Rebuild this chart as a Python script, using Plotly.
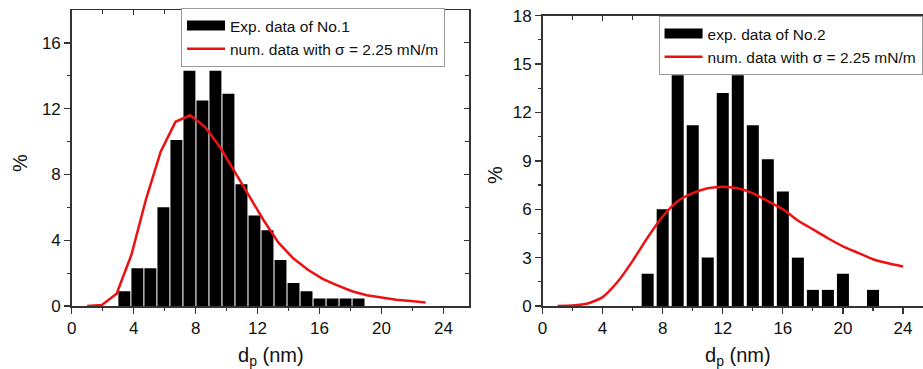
import plotly.graph_objects as go

# ---------------- data ----------------
# Left panel: experimental histogram No.1 (bin centres in nm, %)
exp1_x = [3.40, 4.24, 5.08, 5.92, 6.76, 7.60, 8.44, 9.28, 10.12, 10.96,
          11.80, 12.64, 13.48, 14.32, 15.16, 16.00, 16.84, 17.68, 18.52]
exp1_y = [0.9, 2.3, 2.3, 6.0, 10.1, 14.3, 12.5, 14.3, 12.9, 7.4,
          5.5, 4.6, 2.8, 1.4, 0.9, 0.45, 0.45, 0.45, 0.45]

# Left panel: numerical curve
num1_x = [1.0, 1.95, 2.9, 3.85, 4.8, 5.75, 6.7, 7.65, 8.6, 9.55, 10.5, 11.45,
          12.4, 13.35, 14.3, 15.25, 16.2, 17.15, 18.1, 19.05, 20.0, 20.95,
          21.9, 22.85]
num1_y = [0.0, 0.06, 0.75, 3.1, 6.5, 9.4, 11.2, 11.6, 10.9, 9.7, 8.2, 6.7,
          5.2, 3.85, 2.9, 2.2, 1.65, 1.25, 0.9, 0.65, 0.5, 0.38, 0.3, 0.22]

# Right panel: experimental histogram No.2
exp2_x = [7, 8, 9, 10, 11, 12, 13, 14, 15, 16, 17, 18, 19, 20, 21, 22]
exp2_y = [2, 6, 14.3, 11.2, 3, 13.2, 14.3, 11.2, 9.1, 7.1, 3, 1, 1, 2, 0, 1]

# Right panel: numerical curve
num2_x = [1, 2, 3, 4, 5, 6, 7, 8, 9, 10, 11, 12, 13, 14, 15, 16, 17, 18, 19,
          20, 21, 22, 23, 24]
num2_y = [0.0, 0.03, 0.15, 0.55, 1.5, 2.8, 4.25, 5.55, 6.5, 7.0, 7.3, 7.4,
          7.3, 7.0, 6.5, 6.0, 5.3, 4.75, 4.2, 3.7, 3.3, 2.9, 2.65, 2.45]

name_exp1 = "Exp. data of No.1"
name_exp2 = "exp. data of No.2"
name_num = "num. data with σ = 2.25 mN/m"

x_ticks = [0, 4, 8, 12, 16, 20, 24]
y1_ticks = [0, 4, 8, 12, 16]
y2_ticks = [0, 3, 6, 9, 12, 15, 18]

# ---------------- figure ----------------
W, H = 923, 369
FONT = "Arial, 'Liberation Sans', sans-serif"
AXC = "#333333"
RED = "#ee1111"

fig = go.Figure()

# bars
fig.add_trace(go.Bar(x=exp1_x, y=exp1_y, width=0.77, marker=dict(color="black", line=dict(width=0)),
                     showlegend=False, xaxis="x", yaxis="y"))
fig.add_trace(go.Bar(x=exp2_x, y=exp2_y, width=0.8, marker=dict(color="black", line=dict(width=0)),
                     showlegend=False, xaxis="x2", yaxis="y2"))

# legend-only entries (wide black rectangle symbol)
fig.add_trace(go.Scatter(x=[None], y=[None], mode="lines", name=name_exp1,
                         line=dict(color="black", width=16), legend="legend",
                         xaxis="x", yaxis="y"))
fig.add_trace(go.Scatter(x=[None], y=[None], mode="lines", name=name_exp2,
                         line=dict(color="black", width=17), legend="legend2",
                         xaxis="x2", yaxis="y2"))

# curves (on overlay axes with identical ranges)
fig.add_trace(go.Scatter(x=num1_x, y=num1_y, mode="lines", name=name_num,
                         line=dict(color=RED, width=2.5), legend="legend",
                         xaxis="x3", yaxis="y3"))
fig.add_trace(go.Scatter(x=num2_x, y=num2_y, mode="lines", name=name_num,
                         line=dict(color=RED, width=2.5, shape="spline", smoothing=0.6),
                         legend="legend2", xaxis="x4", yaxis="y4"))

dl = [71.7 / W, 469 / W]
dr = [542.5 / W, 1.0]
y_bot = (H - 306) / H
yl = [y_bot, (H - 10) / H]
yr = [y_bot, (H - 15.7) / H]
xr1 = [0, 25.65]
xr2 = [0, 25.33]

def base_x(domain, rng, anchor):
    return dict(domain=domain, range=rng, anchor=anchor, tickmode="array", tickvals=x_ticks,
                ticks="outside", ticklen=6, tickwidth=1.3, tickcolor=AXC,
                minor=dict(tickmode="array", tickvals=[2, 6, 10, 14, 18, 22], ticks="outside",
                           ticklen=3.5, tickwidth=1.2, tickcolor=AXC),
                showline=True, linecolor=AXC, linewidth=1.5, showgrid=False, zeroline=False,
                tickfont=dict(family=FONT, size=17, color="#111"), fixedrange=True,
                automargin=False)

def base_y(domain, rng, anchor, tv, mv):
    return dict(domain=domain, range=rng, anchor=anchor, tickmode="array", tickvals=tv,
                ticks="outside", ticklen=6, tickwidth=1.3, tickcolor=AXC,
                minor=dict(tickmode="array", tickvals=mv, ticks="outside",
                           ticklen=3.5, tickwidth=1.2, tickcolor=AXC),
                showline=True, linecolor=AXC, linewidth=1.5, showgrid=False, zeroline=False,
                tickfont=dict(family=FONT, size=17, color="#111"), fixedrange=True,
                automargin=False)

def over_x(base, rng, anchor, tv, mv):
    return dict(overlaying=base, side="top", range=rng, anchor=anchor, tickmode="array",
                tickvals=tv, ticks="inside", ticklen=5, tickwidth=1.2, tickcolor=AXC,
                minor=dict(tickmode="array", tickvals=mv, ticks="inside", ticklen=4,
                           tickwidth=1.1, tickcolor=AXC),
                showticklabels=False, showline=True, linecolor=AXC, linewidth=1.5,
                showgrid=False, zeroline=False, fixedrange=True, automargin=False)

def over_y(base, rng, anchor, tv, mv, show=True):
    return dict(overlaying=base, side="right", range=rng, anchor=anchor, tickmode="array",
                tickvals=tv, ticks="inside" if show else "", ticklen=5, tickwidth=1.2,
                tickcolor=AXC,
                minor=dict(tickmode="array", tickvals=mv, ticks="inside" if show else "",
                           ticklen=4, tickwidth=1.1, tickcolor=AXC),
                showticklabels=False, showline=show, linecolor=AXC, linewidth=1.5,
                showgrid=False, zeroline=False, fixedrange=True, automargin=False)

legend_common = dict(bgcolor="white", bordercolor="#9a9a9a", borderwidth=1,
                     font=dict(family=FONT, size=15.5, color="#111"),
                     itemwidth=38, yanchor="top",
                     traceorder="normal", tracegroupgap=0)

title_font = dict(family=FONT, size=20, color="#111")

fig.update_layout(
    width=W, height=H,
    margin=dict(l=0, r=0, t=0, b=0, autoexpand=False),
    paper_bgcolor="white", plot_bgcolor="white",
    barmode="overlay",
    font=dict(family=FONT, color="#111"),
    xaxis=base_x(dl, xr1, "y"),
    yaxis=base_y(yl, [0, 18], "x", y1_ticks, [2, 6, 10, 14]),
    xaxis2=base_x(dr, xr2, "y2"),
    yaxis2=base_y(yr, [0, 18], "x2", y2_ticks, [1.5, 4.5, 7.5, 10.5, 13.5, 16.5]),
    xaxis3=over_x("x", xr1, "y3", x_ticks, [2, 6, 10, 14, 18, 22]),
    yaxis3=over_y("y", [0, 18], "x3", y1_ticks, [2, 6, 10, 14]),
    xaxis4=over_x("x2", xr2, "y4", x_ticks, [2, 6, 10, 14, 18, 22]),
    yaxis4=over_y("y2", [0, 18], "x4", y2_ticks, [1.5, 4.5, 7.5, 10.5, 13.5, 16.5], show=False),
    legend=dict(x=181 / W, y=(H - 8) / H, xanchor="left", **legend_common),
    legend2=dict(x=0.9995, y=(H - 16) / H, xanchor="right", **legend_common),
    annotations=[
        dict(text="%", x=20 / W, y=(H - 163) / H, xref="paper", yref="paper",
             xanchor="center", yanchor="middle",
             showarrow=False, textangle=-90, font=title_font),
        dict(text="%", x=495 / W, y=(H - 175) / H, xref="paper", yref="paper",
             xanchor="center", yanchor="middle",
             showarrow=False, textangle=-90, font=title_font),
        dict(text="d<sub>p</sub> (nm)", x=271 / W, y=(H - 356) / H, xref="paper", yref="paper",
             xanchor="center", yanchor="middle", showarrow=False, font=title_font),
        dict(text="d<sub>p</sub> (nm)", x=738 / W, y=(H - 356) / H, xref="paper", yref="paper",
             xanchor="center", yanchor="middle", showarrow=False, font=title_font),
    ],
)

fig.write_html(
    "out.html",
    config={"displayModeBar": False, "staticPlot": True},
    post_script="document.body.style.margin='0';document.body.style.overflow='hidden';"
                "document.documentElement.style.overflow='hidden';",
)
